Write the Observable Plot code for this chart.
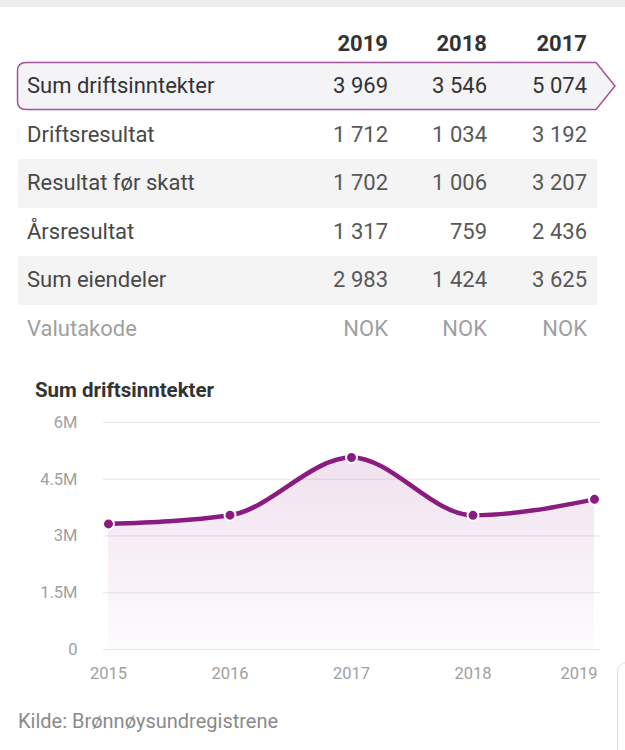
<!DOCTYPE html>
<html>
<head>
<meta charset="utf-8">
<script src="https://cdn.jsdelivr.net/npm/d3@7"></script>
<script src="https://cdn.jsdelivr.net/npm/@observablehq/plot@0.6"></script>
<style>
  html, body { margin: 0; padding: 0; background: #fff; }
  body { width: 625px; height: 750px; position: relative; overflow: hidden; font-family: Roboto, "Noto Sans", sans-serif; }
  .strip { position: absolute; left: 0; top: 0; width: 625px; height: 7px; background: #eeeeee; }
  .hdr { position: absolute; top: 31px; font-size: 22px; font-weight: 700; color: #333; width: 90px; text-align: right; line-height: 26px; }
  .row { position: absolute; left: 18px; width: 579px; height: 48.5px; }
  .row.alt { background: #f4f4f4; }
  .cell { position: absolute; top: 0; line-height: 48.5px; font-size: 22px; color: #585858; }
  .lab { left: 9px; color: #484848; }
  .val { width: 90px; text-align: right; }
  .row.cur .cell { color: #a0a0a0; }
  .row.hl .cell { color: #333; }
  .title { position: absolute; left: 35px; top: 377px; font-size: 20.5px; font-weight: 700; color: #333; line-height: 26px; }
  .caption { position: absolute; left: 18px; top: 708px; font-size: 20px; color: #8a8a8a; line-height: 26px; }
  #chart { position: absolute; left: 0; top: 400px; }
  .deco { position: absolute; left: 617px; top: 662px; width: 40px; height: 120px; border: 1.5px solid #dcdcdc; border-radius: 10px; }
</style>
</head>
<body>
<div class="strip"></div>
<svg id="hlbox" width="625" height="120" style="position:absolute;left:0;top:0">
  <path d="M26,62.5 H596 L615,86 L596,109.5 H26 Q17.5,109.5 17.5,101 V71 Q17.5,62.5 26,62.5 Z" fill="#f4f3f5" stroke="#a0549a" stroke-width="1.5"/>
</svg>
<div id="table"></div>
<div class="title">Sum driftsinntekter</div>
<div id="chart"></div>
<div class="caption">Kilde: Brønnøysundregistrene</div>
<div class="deco"></div>
<script>
// ---- Table data ----
const tableYears = ["2019", "2018", "2017"];
const rowLabels = ["Sum driftsinntekter", "Driftsresultat", "Resultat før skatt", "Årsresultat", "Sum eiendeler", "Valutakode"];
const sumDriftsinntekter = [3969, 3546, 5074];
const driftsresultat = [1712, 1034, 3192];
const resultatForSkatt = [1702, 1006, 3207];
const arsresultat = [1317, 759, 2436];
const sumEiendeler = [2983, 1424, 3625];
const valutakode = ["NOK", "NOK", "NOK"];

// ---- Chart data ----
const chartYears = [2015, 2016, 2017, 2018, 2019];
const chartValues = [3320000, 3550000, 5074000, 3546000, 3969000];
const yTicks = [0, 1500000, 3000000, 4500000, 6000000];
const yTickLabels = ["0", "1.5M", "3M", "4.5M", "6M"];
const xTickLabels = ["2015", "2016", "2017", "2018", "2019"];

const purple = "#8a1c80";

// ---- Build table ----
const fmt = d3.formatLocale({decimal: ",", thousands: "\u00a0", grouping: [3], currency: ["", ""]}).format(",d");
const rowValues = [sumDriftsinntekter, driftsresultat, resultatForSkatt, arsresultat, sumEiendeler, valutakode];
const table = document.getElementById("table");
const colRight = [388, 487, 587];
tableYears.forEach((yr, j) => {
  const h = document.createElement("div");
  h.className = "hdr";
  h.style.left = (colRight[j] - 90) + "px";
  h.textContent = yr;
  table.appendChild(h);
});
rowLabels.forEach((lab, i) => {
  const r = document.createElement("div");
  r.className = "row" + (i === 0 ? " hl" : "") + (i === 2 || i === 4 ? " alt" : "") + (i === 5 ? " cur" : "");
  r.style.top = (62 + i * 48.5) + "px";
  const l = document.createElement("div");
  l.className = "cell lab";
  l.textContent = lab;
  r.appendChild(l);
  rowValues[i].forEach((v, j) => {
    const c = document.createElement("div");
    c.className = "cell val";
    c.style.left = (colRight[j] - 18 - 90) + "px";
    c.textContent = typeof v === "number" ? fmt(v) : v;
    r.appendChild(c);
  });
  table.appendChild(r);
});

// ---- Chart ----
const data = chartYears.map((x, i) => ({x, y: chartValues[i]}));

const gradientDefs = () => {
  const ns = "http://www.w3.org/2000/svg";
  const defs = document.createElementNS(ns, "defs");
  const lg = document.createElementNS(ns, "linearGradient");
  lg.setAttribute("id", "areaGrad");
  lg.setAttribute("x1", "0"); lg.setAttribute("y1", "0");
  lg.setAttribute("x2", "0"); lg.setAttribute("y2", "1");
  [["0%", 0.13], ["100%", 0.015]].forEach(([o, a]) => {
    const s = document.createElementNS(ns, "stop");
    s.setAttribute("offset", o);
    s.setAttribute("stop-color", purple);
    s.setAttribute("stop-opacity", a);
    lg.appendChild(s);
  });
  defs.appendChild(lg);
  return defs;
};

const chart = Plot.plot({
  width: 625,
  height: 300,
  marginTop: 22,
  marginBottom: 51,
  marginLeft: 108,
  marginRight: 31,
  style: {fontFamily: "Roboto, sans-serif", background: "transparent", overflow: "visible"},
  x: {domain: [2015, 2019]},
  y: {domain: [0, 6000000]},
  marks: [
    gradientDefs,
    Plot.ruleY(yTicks, {stroke: "#e6e6e6", strokeWidth: 1.2, insetLeft: -5, insetRight: -6}),
    Plot.axisY(yTicks, {tickSize: 0, tickPadding: 31, fontSize: 16.5, fill: "#a0a0a0",
      tickFormat: d => yTickLabels[yTicks.indexOf(d)], label: null}),
    Plot.axisX(chartYears.slice(0, -1), {tickSize: 0, tickPadding: 18, fontSize: 16.5, fill: "#a0a0a0",
      tickFormat: d => xTickLabels[chartYears.indexOf(d)], label: null}),
    Plot.axisX(chartYears.slice(-1), {tickSize: 0, tickPadding: 18, fontSize: 16.5, fill: "#a0a0a0",
      textAnchor: "end", dx: 3, tickFormat: d => xTickLabels[chartYears.indexOf(d)], label: null}),
    Plot.areaY(data, {x: "x", y: "y", curve: "monotone-x", fill: "url(#areaGrad)"}),
    Plot.lineY(data, {x: "x", y: "y", curve: "monotone-x", stroke: purple, strokeWidth: 4.5}),
    Plot.dot(data, {x: "x", y: "y", r: 5.5, fill: purple, stroke: "white", strokeWidth: 2})
  ]
});
document.getElementById("chart").appendChild(chart);
</script>
</body>
</html>
